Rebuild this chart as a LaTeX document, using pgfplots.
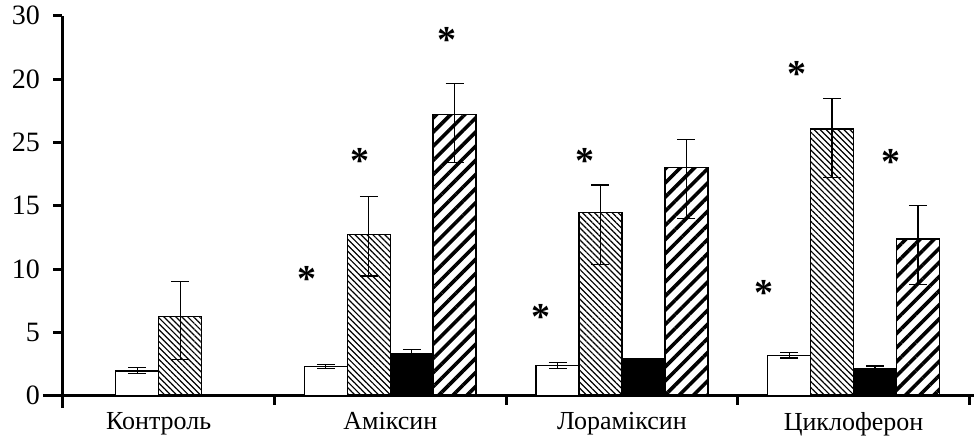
\documentclass[border=0pt]{standalone}
\usepackage{pgfplots}
\pgfplotsset{compat=1.18}
\usepackage{pgfplotstable}
\usepackage{fontspec}
\setmainfont{Liberation Serif}
\usetikzlibrary{patterns.meta}
% x, y, error plus, error minus
\pgfplotstableread{
x y ep em
-0.0928 1.95 0.25 0.20
0.722 2.29 0.15 0.15
1.722 2.37 0.24 0.24
2.722 3.16 0.22 0.18
}\white
\pgfplotstableread{
x y ep em
0.0928 6.24 2.76 3.37
0.9072 12.74 2.96 3.29
1.9072 14.47 2.16 4.08
2.9072 21.07 2.40 3.87
}\fine
\pgfplotstableread{
x y ep em
1.0928 3.35 0.30 0.30
2.0928 2.95 0.00 0.00
3.0928 2.16 0.18 0.18
}\solid
\pgfplotstableread{
x y ep em
1.278 22.20 2.46 3.80
2.278 18.00 2.24 4.03
3.278 12.37 2.63 3.58
}\thick
\tikzset{star/.style={anchor=base, inner sep=0pt, yshift=-10pt, font=\fontsize{19}{19}\selectfont\bfseries}}
\begin{document}
\begin{tikzpicture}
\begin{axis}[
  scale only axis,
  width=456pt, height=190pt,
  xmin=-0.417, xmax=3.52, ymin=0, ymax=30,
  axis x line*=bottom, axis y line*=left,
  axis line style={line width=1.5pt, black},
  clip=false,
  ytick={0,5,10,15,20,25,30},
  yticklabels={0,5,10,15,25,20,30},
  xtick={0.5,1.5,2.5,3.5},
  xticklabels={},
  extra x ticks={0,1,2,3},
  extra x tick labels={Контроль,Аміксин,Лораміксин,Циклоферон},
  extra x tick style={major tick length=0pt, xticklabel style={yshift=-5pt, font=\fontsize{13}{15}\selectfont}},
  tick align=outside,
  major tick length=4.5pt,
  tick style={line width=1.5pt, black},
  /pgf/number format/assume math mode=true,
  ticklabel style={font=\fontsize{14}{16}\selectfont},
  yticklabel style={xshift=-3pt},
  ybar, bar width=0.1856, bar shift=0pt,
  error bars/y dir=both, error bars/y explicit,
  error bars/error bar style={line width=0.6pt, black},
  error bars/error mark options={rotate=90, black, line width=0.6pt, mark size=4.5pt},
]
\addplot[bar shift=0pt, draw=black, line width=0.75pt, fill=white]
  table[x=x, y=y, y error plus=ep, y error minus=em] {\white};
\addplot[bar shift=0pt, draw=black, line width=0.75pt, pattern={Lines[angle=-45, distance=2.1pt, line width=0.6pt]}]
  table[x=x, y=y, y error plus=ep, y error minus=em] {\fine};
\addplot[bar shift=0pt, draw=black, line width=0.75pt, fill=black]
  table[x=x, y=y, y error plus=ep, y error minus=em] {\solid};
\addplot[bar shift=0pt, draw=black, line width=0.75pt, pattern={Lines[angle=45, distance=5pt, line width=1.8pt]}]
  table[x=x, y=y, y error plus=ep, y error minus=em] {\thick};
\draw[line width=1.5pt] (axis cs:-0.5,0) -- (axis cs:-0.417,0);
\draw[line width=1.5pt] (axis cs:-0.417,0) -- (axis cs:-0.417,-0.97);
\node[star] at (axis cs:0.6393,9.79) {*};
\node[star] at (axis cs:0.8694,19.14) {*};
\node[star] at (axis cs:1.2463,28.69) {*};
\node[star] at (axis cs:1.6495,6.77) {*};
\node[star] at (axis cs:1.8407,19.14) {*};
\node[star] at (axis cs:2.6147,8.74) {*};
\node[star] at (axis cs:2.7546,25.97) {*};
\node[star] at (axis cs:3.1604,19.08) {*};
\coordinate (BL) at (axis cs:-0.6847,-3.34);
\coordinate (TR) at (axis cs:3.5243,31.24);
\end{axis}
\pgfresetboundingbox
\path (BL) rectangle (TR);
\end{tikzpicture}
\end{document}
